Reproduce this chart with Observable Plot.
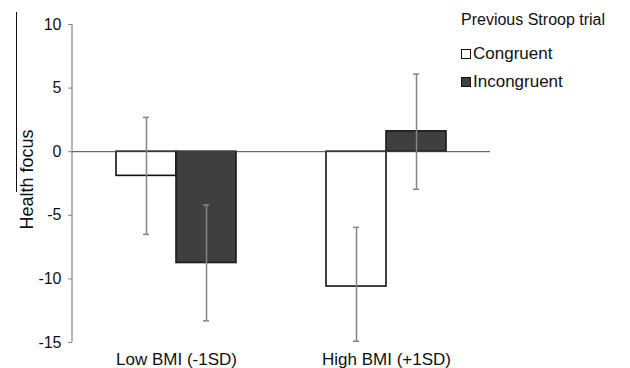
<!DOCTYPE html>
<html>
<head>
<meta charset="utf-8">
<script src="https://cdn.jsdelivr.net/npm/d3@7"></script>
<script src="https://cdn.jsdelivr.net/npm/@observablehq/plot@0.6"></script>
<style>
  html, body { margin: 0; padding: 0; background: #fff; }
  #wrap { position: relative; width: 630px; height: 368px; font-family: "Liberation Sans", Arial, sans-serif; }
  #legend { position: absolute; left: 461px; top: 10px; color: #111; }
  #legend .title { font-size: 16px; line-height: 20px; height: 20px; }
  #legend .row { font-size: 17px; line-height: 20px; height: 20px; display: flex; align-items: center; }
  #legend .row1 { margin-top: 14px; }
  #legend .row2 { margin-top: 8px; }
  #legend .sw { width: 8px; height: 8px; border: 1.5px solid #111; margin-right: 2px; box-sizing: content-box; }
  #artifact { position: absolute; left: 16px; top: 12px; width: 1px; height: 180px; background: #111; }
</style>
</head>
<body>
<div id="wrap">
  <div id="chart"></div>
  <div id="artifact"></div>
  <div id="legend"></div>
</div>
<script>
const groups = ["Low BMI (-1SD)", "High BMI (+1SD)"];
const conditions = ["Congruent", "Incongruent"];
const legendTitle = "Previous Stroop trial";
const congruentMean = [-1.9, -10.6];
const congruentLow = [-6.5, -14.9];
const congruentHigh = [2.7, -5.95];
const incongruentMean = [-8.75, 1.6];
const incongruentLow = [-13.3, -2.95];
const incongruentHigh = [-4.2, 6.1];
const yTicks = [-15, -10, -5, 0, 5, 10];
const yLabel = "Health focus";

const congruent = groups.map((g, i) => ({group: g, value: congruentMean[i], lo: congruentLow[i], hi: congruentHigh[i]}));
const incongruent = groups.map((g, i) => ({group: g, value: incongruentMean[i], lo: incongruentLow[i], hi: incongruentHigh[i]}));

const half = 30;
const errColor = "#858585";

const chart = Plot.plot({
  width: 630,
  height: 368,
  marginLeft: 72,
  marginRight: 140,
  marginTop: 24,
  marginBottom: 26,
  style: {fontFamily: "'Liberation Sans', Arial, sans-serif", background: "transparent", color: "#111"},
  x: {domain: groups, paddingInner: 0.4286, paddingOuter: 0.2095, round: false, label: null},
  y: {domain: [-15, 10], label: null},
  marks: [
    Plot.barY(congruent, {x: "group", y: "value", fill: "white", stroke: "#111", strokeWidth: 1.6, insetRight: 60}),
    Plot.barY(incongruent, {x: "group", y: "value", fill: "#3f3f3f", stroke: "#1a1a1a", strokeWidth: 1.6, insetLeft: 60}),
    Plot.ruleY([0], {stroke: "#444", strokeWidth: 1}),
    Plot.ruleX(congruent, {x: "group", y1: "lo", y2: "hi", dx: -half, stroke: errColor, strokeWidth: 1.5}),
    Plot.ruleX(incongruent, {x: "group", y1: "lo", y2: "hi", dx: half, stroke: errColor, strokeWidth: 1.5}),
    Plot.tickY(congruent, {x: "group", y: "lo", dx: -half, insetLeft: 57, insetRight: 57, stroke: errColor, strokeWidth: 1.5}),
    Plot.tickY(congruent, {x: "group", y: "hi", dx: -half, insetLeft: 57, insetRight: 57, stroke: errColor, strokeWidth: 1.5}),
    Plot.tickY(incongruent, {x: "group", y: "lo", dx: half, insetLeft: 57, insetRight: 57, stroke: errColor, strokeWidth: 1.5}),
    Plot.tickY(incongruent, {x: "group", y: "hi", dx: half, insetLeft: 57, insetRight: 57, stroke: errColor, strokeWidth: 1.5}),
    Plot.axisY({ticks: yTicks, tickFormat: d => String(d), tickSize: 4, tickPadding: 7, fontSize: 16, stroke: errColor, fill: "#111", label: null}),
    Plot.text([yLabel], {text: d => d, frameAnchor: "left", textAnchor: "middle", rotate: -90, dx: -45, dy: -4, fontSize: 18, fill: "#111"}),
    Plot.axisX({tickSize: 0, tickPadding: 10, fontSize: 17, fill: "#111", label: null})
  ]
});
document.getElementById("chart").appendChild(chart);

// y-axis domain line, drawn from the chart's own scales
const ys = chart.scale("y");
const xs = chart.scale("x");
const [yTop, yBottom] = [ys.apply(ys.domain[1]), ys.apply(ys.domain[0])];
d3.select(chart).append("line")
  .attr("x1", xs.range[0]).attr("x2", xs.range[0])
  .attr("y1", yTop).attr("y2", yBottom)
  .attr("stroke", errColor).attr("stroke-width", 1.2);

const legend = document.getElementById("legend");
const t = document.createElement("div");
t.className = "title";
t.textContent = legendTitle;
legend.appendChild(t);
const fills = ["white", "#3f3f3f"];
conditions.forEach((c, i) => {
  const r = document.createElement("div");
  r.className = "row row" + (i + 1);
  const s = document.createElement("span");
  s.className = "sw";
  s.style.background = fills[i];
  r.appendChild(s);
  const l = document.createElement("span");
  l.textContent = c;
  r.appendChild(l);
  legend.appendChild(r);
});
</script>
</body>
</html>
